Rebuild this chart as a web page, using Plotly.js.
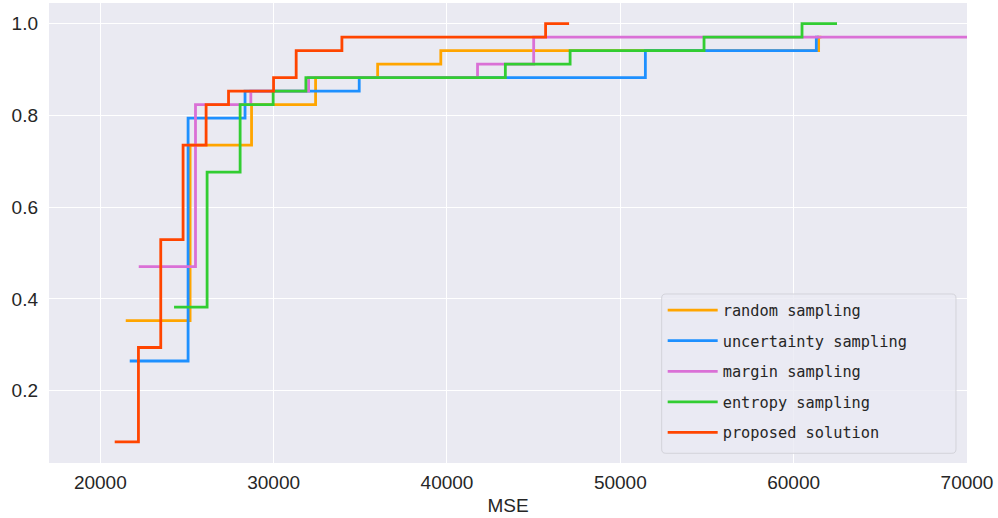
<!DOCTYPE html>
<html>
<head>
<meta charset="utf-8">
<script src="https://cdn.plot.ly/plotly-3.0.1.min.js"></script>
<style>html,body{margin:0;padding:0;background:#fff;}#chart{width:998px;height:518px;}</style>
</head>
<body>
<div id="chart"></div>
<script>
// ECDF step data (MSE, cumulative fraction as count/34)
const seriesNames = ["random sampling", "uncertainty sampling", "margin sampling", "entropy sampling", "proposed solution"];
const seriesColors = ["#FFA500", "#1E90FF", "#DA70D6", "#32CD32", "#FF4500"];

const randomX = [21467, 25179, 28725, 32420, 36000, 39643, 61440, 61600];
const randomN = [12, 25, 28, 30, 31, 32, 33, 33];

const uncertaintyX = [21698, 25064, 28349, 34937, 51445, 61307, 61450];
const uncertaintyN = [9, 27, 29, 30, 32, 33, 33];

const marginX = [22217, 25491, 28684, 32016, 41762, 45001, 70000];
const marginN = [16, 28, 29, 30, 31, 33, 33];

const entropyX = [24255, 26161, 28066, 29972, 31860, 43367, 47103, 54829, 60482, 62502];
const entropyN = [13, 23, 28, 29, 30, 31, 32, 33, 34, 34];

const proposedX = [20831, 22200, 23487, 24775, 26103, 27397, 29995, 31300, 33938, 45689, 47045];
const proposedN = [3, 10, 18, 25, 28, 29, 30, 32, 33, 34, 34];

const totalRuns = 34;
const yTicks = [0.2, 0.4, 0.6, 0.8, 1.0];
const xTicks = [20000, 30000, 40000, 50000, 60000, 70000];

const allX = [randomX, uncertaintyX, marginX, entropyX, proposedX];
const allN = [randomN, uncertaintyN, marginN, entropyN, proposedN];

const traces = allX.map((xs, i) => ({
  x: xs,
  y: allN[i].map(n => n / totalRuns),
  type: "scatter",
  mode: "lines",
  line: {shape: "hv", color: seriesColors[i], width: 2.8},
  name: seriesNames[i],
  legendgroup: "g" + i
}));

// rounded legend frame (paper coordinates)
function roundedRect(x0, y0, x1, y1, rx, ry) {
  return `M${x0 + rx},${y0} L${x1 - rx},${y0} Q${x1},${y0} ${x1},${y0 + ry} ` +
         `L${x1},${y1 - ry} Q${x1},${y1} ${x1 - rx},${y1} L${x0 + rx},${y1} ` +
         `Q${x0},${y1} ${x0},${y1 - ry} L${x0},${y0 + ry} Q${x0},${y0} ${x0 + rx},${y0} Z`;
}

const textColor = "#262626";
const layout = {
  width: 998,
  height: 518,
  margin: {l: 49, r: 31, t: 3, b: 55},
  paper_bgcolor: "#ffffff",
  plot_bgcolor: "#EAEAF2",
  font: {family: "Liberation Sans, Arial, sans-serif", size: 19, color: textColor},
  showlegend: true,
  legend: {
    x: 0.6685, xanchor: "left",
    y: 0.029, yanchor: "bottom",
    bgcolor: "rgba(0,0,0,0)",
    borderwidth: 0,
    font: {family: "DejaVu Sans Mono, monospace", size: 15.3, color: textColor},
    itemwidth: 50,
    tracegroupgap: 7.7,
    traceorder: "grouped"
  },
  shapes: [{
    type: "path",
    xref: "paper", yref: "paper",
    path: roundedRect(0.6674, 0.0211, 0.9880, 0.3674, 0.0045, 0.009),
    fillcolor: "rgba(234,234,242,0.8)",
    line: {color: "#D3D3DA", width: 1},
    layer: "above"
  }],
  xaxis: {
    range: [17040, 70000],
    tickvals: xTicks,
    ticktext: xTicks.map(String),
    showgrid: true,
    gridcolor: "#ffffff",
    gridwidth: 1.2,
    zeroline: false,
    showline: false,
    ticks: "",
    ticklabelstandoff: 6,
    tickfont: {size: 19, color: textColor},
    title: {text: "MSE", font: {size: 19, color: textColor}, standoff: 6}
  },
  yaxis: {
    range: [0.0424, 1.0451],
    tickvals: yTicks,
    ticktext: yTicks.map(v => v.toFixed(1)),
    showgrid: true,
    gridcolor: "#ffffff",
    gridwidth: 1.2,
    zeroline: false,
    showline: false,
    ticks: "",
    ticklabelstandoff: 10,
    tickfont: {size: 19, color: textColor}
  }
};

Plotly.newPlot("chart", traces, layout, {displayModeBar: false, responsive: false});
</script>
</body>
</html>
